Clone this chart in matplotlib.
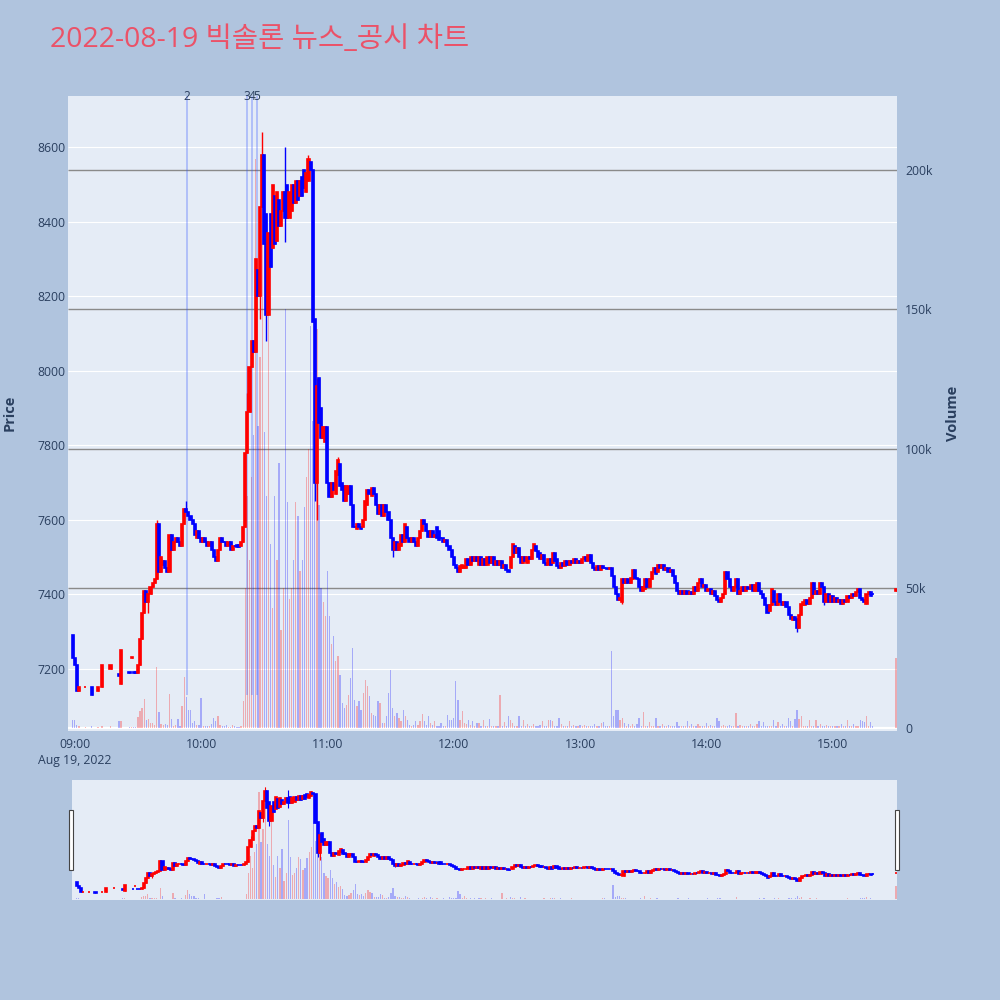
import matplotlib
matplotlib.use("Agg")
import matplotlib.pyplot as plt
from matplotlib.patches import Rectangle

plt.rcParams['font.family'] = ['Open Sans', 'Noto Sans CJK KR', 'DejaVu Sans']

title = "2022-08-19 빅솔론 뉴스_공시 차트"
first_minute = -1          # 08:59 ; index i -> minutes after 09:00 = i - 1
N = None

opens = [
    7290, 7230, 7210, 7140, N, N, 7150, N, N, 7150,
    N, N, 7140, N, 7150, N, N, N, 7200, N,
    N, N, 7185, 7160, N, N, N, 7192, 7228, 7192,
    7192, 7190, 7210, 7280, 7350, 7410, 7380, 7400, 7420, 7430,
    7440, 7590, 7460, 7480, 7490, 7470, 7460, 7560, 7520, 7540,
    7550, 7540, 7530, 7590, 7630, 7620, 7610, 7600, 7590, 7550,
    7570, 7550, 7540, 7550, 7540, 7530, 7540, 7520, 7500, 7490,
    7520, 7550, 7540, 7540, 7530, 7540, 7520, 7530, 7532, 7532,
    7530, 7540, 7580, 7780, 7890, 8010, 8080, 8050, 8270, 8200,
    8440, 8580, 8420, 8150, 8420, 8330, 8470, 8350, 8460, 8390,
    8430, 8480, 8500, 8410, 8430, 8500, 8450, 8510, 8470, 8520,
    8540, 8480, 8510, 8560, 8540, 8140, 7700, 7980, 7900, 7820,
    7810, 7850, 7700, 7660, 7700, 7670, 7720, 7750, 7700, 7690,
    7650, 7670, 7690, 7640, 7580, 7575, 7590, 7580, 7580, 7600,
    7640, 7680, 7665, 7685, 7670, 7640, 7615, 7640, 7610, 7640,
    7620, 7600, 7550, 7520, 7540, 7520, 7530, 7560, 7540, 7580,
    7550, 7540, 7550, 7540, 7530, 7550, 7570, 7600, 7590, 7570,
    7555, 7570, 7555, 7580, 7570, 7550, 7550, 7540, 7545, 7530,
    7520, 7500, 7480, 7470, 7460, 7470, 7470, 7470, 7495, 7480,
    7500, 7490, 7500, 7480, 7500, 7480, 7495, 7480, 7500, 7485,
    7500, 7480, 7490, 7480, 7490, 7470, 7480, 7465, 7470, 7500,
    7530, 7510, 7525, 7500, 7485, 7500, 7485, 7500, 7495, 7520,
    7530, 7515, 7510, 7495, 7505, 7485, 7480, 7495, 7485, 7510,
    7495, 7475, 7470, 7485, 7475, 7490, 7480, 7490, 7485, 7495,
    7485, 7490, 7485, 7495, 7500, 7490, 7505, 7485, 7470, 7465,
    7475, 7465, 7475, 7470, 7472, 7468, 7470, 7450, 7420, 7400,
    7385, 7380, 7440, 7430, 7440, 7430, 7440, 7465, 7445, 7440,
    7420, 7410, 7415, 7440, 7420, 7440, 7460, 7470, 7460, 7480,
    7470, 7480, 7465, 7470, 7460, 7465, 7450, 7430, 7410, 7400,
    7410, 7400, 7410, 7400, 7405, 7400, 7420, 7410, 7430, 7440,
    7420, 7425, 7410, 7415, 7400, 7410, 7395, 7385, 7380, 7390,
    7400, 7460, 7440, 7420, 7410, 7420, 7440, 7400, 7410, 7420,
    7410, 7420, 7415, 7425, 7410, 7410, 7430, 7410, 7400, 7390,
    7370, 7355, 7370, 7410, 7380, 7370, 7400, 7380, 7370, 7380,
    7365, 7345, 7330, 7340, 7335, 7310, 7345, 7370, 7370, 7385,
    7375, 7390, 7430, 7400, 7410, 7400, 7430, 7420, 7380, 7400,
    7380, 7395, 7380, 7390, 7380, 7385, 7375, 7385, 7380, 7395,
    7390, 7400, 7395, 7405, 7415, 7390, 7385, 7375, 7400, 7405,
    7400, N, N, N, N, N, N, N, N, N,
    N, 7410,
]

closes = [
    7230, 7210, 7140, 7150, N, N, 7152, N, N, 7130,
    N, N, 7150, N, 7210, N, N, N, 7210, N,
    N, N, 7180, 7250, N, N, N, 7188, 7232, 7188,
    7188, 7210, 7280, 7350, 7410, 7380, 7400, 7420, 7430, 7440,
    7590, 7460, 7500, 7490, 7470, 7460, 7560, 7520, 7540, 7550,
    7540, 7530, 7590, 7630, 7620, 7610, 7600, 7590, 7560, 7570,
    7550, 7540, 7550, 7540, 7530, 7540, 7520, 7500, 7490, 7520,
    7550, 7540, 7540, 7530, 7540, 7520, 7530, 7530, 7528, 7528,
    7540, 7580, 7780, 7890, 8010, 8080, 8050, 8300, 8200, 8440,
    8580, 8340, 8150, 8370, 8280, 8500, 8340, 8480, 8390, 8430,
    8480, 8410, 8410, 8480, 8500, 8450, 8510, 8460, 8510, 8470,
    8490, 8530, 8570, 8540, 8130, 7700, 7960, 7860, 7820, 7850,
    7850, 7700, 7660, 7700, 7680, 7730, 7760, 7690, 7680, 7650,
    7690, 7690, 7640, 7580, 7580, 7590, 7580, 7575, 7600, 7650,
    7680, 7670, 7685, 7670, 7640, 7615, 7640, 7610, 7640, 7620,
    7600, 7550, 7520, 7540, 7520, 7535, 7560, 7540, 7590, 7550,
    7540, 7550, 7540, 7530, 7550, 7570, 7600, 7590, 7570, 7555,
    7570, 7555, 7560, 7550, 7545, 7550, 7540, 7545, 7530, 7520,
    7500, 7480, 7470, 7460, 7475, 7480, 7475, 7495, 7480, 7500,
    7490, 7500, 7490, 7500, 7480, 7495, 7480, 7500, 7485, 7500,
    7480, 7490, 7480, 7490, 7470, 7480, 7465, 7460, 7500, 7535,
    7510, 7525, 7500, 7485, 7500, 7490, 7500, 7495, 7520, 7535,
    7515, 7500, 7495, 7505, 7485, 7480, 7495, 7480, 7510, 7490,
    7475, 7470, 7485, 7475, 7490, 7480, 7490, 7485, 7495, 7485,
    7490, 7485, 7495, 7500, 7490, 7505, 7485, 7470, 7465, 7475,
    7465, 7475, 7470, 7470, 7468, 7470, 7450, 7420, 7400, 7385,
    7390, 7440, 7430, 7440, 7430, 7445, 7465, 7445, 7440, 7420,
    7410, 7420, 7440, 7420, 7440, 7460, 7470, 7455, 7480, 7470,
    7480, 7465, 7470, 7460, 7465, 7450, 7430, 7410, 7400, 7410,
    7400, 7410, 7400, 7405, 7400, 7420, 7410, 7430, 7440, 7420,
    7425, 7410, 7415, 7400, 7410, 7395, 7385, 7380, 7390, 7400,
    7460, 7440, 7420, 7410, 7420, 7440, 7400, 7410, 7420, 7410,
    7420, 7415, 7425, 7410, 7425, 7430, 7410, 7400, 7390, 7370,
    7350, 7370, 7415, 7380, 7370, 7400, 7380, 7370, 7380, 7365,
    7345, 7335, 7340, 7330, 7310, 7345, 7375, 7380, 7385, 7375,
    7390, 7430, 7400, 7410, 7400, 7430, 7420, 7380, 7400, 7380,
    7395, 7380, 7390, 7380, 7385, 7375, 7385, 7380, 7395, 7390,
    7400, 7395, 7405, 7415, 7390, 7385, 7380, 7400, 7405, 7395,
    7400, N, N, N, N, N, N, N, N, N,
    N, 7415,
]

# volume in thousands of shares
volumes_k = [
    2.6, 2.6, 0.8, 0.5, 0, 0, 0.3, 0, 0, 0.7,
    0, 0, 0.4, 0, 0.5, 0, 0, 0, 0.7, 0,
    0, 0, 2.3, 2.3, 0, 0, 0, 0.3, 0.3, 0.3,
    0.3, 3.8, 5.9, 7.0, 10.3, 2.6, 3.0, 1.7, 1.7, 1.0,
    21.6, 5.5, 1.4, 1.0, 1.4, 0.8, 12.0, 3.1, 0.7, 1.0,
    3.1, 0.7, 7.6, 18.0, 11.0, 6.2, 6.2, 1.7, 2.3, 1.0,
    0.8, 10.6, 0.5, 0.5, 0.5, 0.5, 1.4, 3.5, 2.3, 4.3,
    1.0, 0.5, 0.5, 0.8, 0.3, 0.3, 0.8, 0.5, 0.3, 0.3,
    0.5, 9.4, 50, 83, 60, 90, 105, 204, 108, 133,
    213, 106, 83, 154, 66, 43, 83, 60, 95, 35,
    50, 150, 81, 46, 50, 60, 81, 76, 56, 60,
    79, 90, 100, 144, 110, 120, 143, 80, 50, 45,
    40, 56, 40, 30, 32.7, 24, 25.6, 19, 8.8, 7,
    8.2, 11.8, 17.8, 28.6, 10, 7.6, 9.4, 6.5, 12.4, 17.2,
    14.8, 11.2, 5.3, 4.7, 4, 9.4, 8.8, 1.7, 1.7, 4,
    12.4, 20.8, 7, 4, 5.3, 3.5, 2.3, 6.2, 4, 2.9,
    1, 0.7, 1, 2.3, 1, 2.3, 5, 2.3, 1, 4,
    1.7, 1, 2.3, 0.7, 0.7, 1.7, 0.5, 0.7, 4.7, 2.9,
    2.9, 3.5, 16.6, 10, 2.9, 5.9, 1.7, 1.4, 2.9, 1,
    2.3, 0.7, 1.7, 1.7, 0.5, 2.9, 0.6, 0.5, 3.1, 0.5,
    0.5, 0.5, 0.6, 11.8, 0.5, 1.9, 0.6, 4, 2.9, 1.7,
    0.6, 0.5, 4.3, 0.5, 2.9, 0.5, 1.4, 0.5, 0.5, 1.4,
    0.5, 0.6, 1, 2.3, 0.5, 0.5, 2.6, 2.6, 2.3, 0.5,
    0.6, 3.5, 1.4, 0.5, 0.5, 0.6, 2.3, 0.5, 1, 0.5,
    0.5, 1, 0.5, 1, 0.5, 0.7, 0.5, 0.5, 1.4, 0.6,
    0.5, 1.7, 1.9, 0.5, 0.5, 0.6, 27.4, 4, 6.5, 6.2,
    2.9, 3.5, 1.7, 0.5, 1.4, 0.5, 1.4, 0.5, 1.4, 3.5,
    0.6, 5.5, 0.5, 0.5, 1.9, 0.5, 0.6, 3.5, 0.5, 0.5,
    1.4, 0.5, 0.5, 1, 0.5, 0.6, 0.5, 1.9, 0.5, 0.6,
    0.5, 0.5, 2.3, 0.5, 1.4, 0.5, 0.6, 1.4, 0.7, 0.5,
    0.5, 1.7, 0.5, 1, 0.5, 0.5, 3.5, 2.3, 0.5, 1,
    0.5, 0.6, 1, 0.5, 0.5, 5.3, 0.5, 1, 0.5, 0.7,
    0.5, 0.5, 1.4, 0.5, 0.5, 1.4, 2.3, 0.5, 1.9, 0.5,
    0.5, 0.5, 0.6, 2.6, 0.5, 1.9, 0.5, 1.4, 0.5, 0.5,
    3.5, 2.3, 0.5, 3.1, 6.2, 3.1, 4, 0.5, 0.5, 0.5,
    2.6, 0.5, 0.6, 2.6, 0.5, 1.4, 0.5, 0.5, 1, 0.5,
    0.5, 0.7, 0.5, 0.5, 0.5, 1.4, 0.5, 0.5, 2.9, 0.5,
    0.5, 1.4, 0.5, 0.5, 2.6, 2.3, 1.9, 4, 0.5, 1.9,
    0.5, 0, 0, 0, 0, 0, 0, 0, 0, 0,
    0, 25,
]

# visible wicks beyond the bodies (minute after 09:00 -> price)
wick_high = {39: 7600, 53: 7650, 82: 7940, 89: 8640, 100: 8600, 111: 8580,
             115: 7980, 125: 7770}
wick_low = {35: 7350, 88: 8140, 91: 8080, 100: 8345, 114: 7650, 115: 7600,
            151: 7500, 260: 7375, 343: 7300, 356: 7370}

news_labels = ["2", "3", "4", "5"]
news_times = ["09:53:20", "10:21:40", "10:24:20", "10:26:25"]

hour_ticks = ["09:00", "10:00", "11:00", "12:00", "13:00", "14:00", "15:00"]
price_ticks = [7200, 7400, 7600, 7800, 8000, 8200, 8400, 8600]
volume_ticks = [0, 50000, 100000, 150000, 200000]
volume_tick_labels = ["0", "50k", "100k", "150k", "200k"]


def to_min(t):
    parts = [int(p) for p in t.split(":")]
    while len(parts) < 3:
        parts.append(0)
    return (parts[0] - 9) * 60 + parts[1] + parts[2] / 60.0


# ---------------------------------------------------------------- prepare
xs, o_l, c_l, h_l, l_l, col, vol_x, vol_v, vol_c = [], [], [], [], [], [], [], [], []
RED, BLUE = "#FF0000", "#0000FF"
for i, (o, c, v) in enumerate(zip(opens, closes, volumes_k)):
    m = i + first_minute
    if o is None:
        continue
    hi = max(o, c, wick_high.get(m, o))
    lo = min(o, c, wick_low.get(m, o))
    cc = RED if c > o else BLUE
    xs.append(m); o_l.append(o); c_l.append(c); h_l.append(hi); l_l.append(lo); col.append(cc)
    vol_x.append(m); vol_v.append(v * 1000); vol_c.append(cc)

XL = (-3.2, 390.5)
PL = (7033, 8738)
VL = (-1200, 226500)
TXT = "#2a3f5f"
BG = "#B0C4DE"
PBG = "#E5ECF6"

fig = plt.figure(figsize=(10, 10), dpi=100, facecolor=BG)

# ----------------------------------------------------------------- main
axv = fig.add_axes([0.068, 0.269, 0.829, 0.635])
axv.set_facecolor(PBG)
axp = axv.twinx()
axp.patch.set_visible(False)
for a in (axv, axp):
    a.set_xlim(*XL)
    for s in a.spines.values():
        s.set_visible(False)
axv.set_ylim(*VL)
axp.set_ylim(*PL)

# grid lines
axv.hlines(price_ticks, XL[0], XL[1], colors="white", linewidth=0.8,
           transform=axp.transData, zorder=0.3)
axv.hlines(volume_ticks[1:], XL[0], XL[1], colors="#8a8a8a", linewidth=1.0, zorder=0.4)
axv.axhline(0, color="white", linewidth=1.6, zorder=0.5)

# volume bars
axv.bar(vol_x, vol_v, width=0.6, color=vol_c, alpha=0.28, linewidth=0, zorder=1)

# news lines
for lab, t in zip(news_labels, news_times):
    xm = to_min(t)
    axp.vlines(xm, 7130, PL[1], colors="#3355ff", alpha=0.35, linewidth=1.2, zorder=1.5)
    axp.text(xm, PL[1], lab, ha="center", va="center", fontsize=8.6, color=TXT,
             clip_on=False, zorder=5)

# candles
axp.vlines(xs, l_l, h_l, colors=col, linewidth=1.0, zorder=2)
heights = [c - o for o, c in zip(o_l, c_l)]
axp.bar(xs, heights, bottom=o_l, width=1.0, color=col, edgecolor=col,
        linewidth=1.2, zorder=3)

# ticks
axp.yaxis.tick_left()
axp.yaxis.set_label_position("left")
axv.yaxis.tick_right()
axv.yaxis.set_label_position("right")
axp.set_yticks(price_ticks)
axp.set_yticklabels([str(p) for p in price_ticks])
axv.set_yticks(volume_ticks)
axv.set_yticklabels(volume_tick_labels)
tick_pos = [to_min(t) for t in hour_ticks]
axv.set_xticks(tick_pos)
labels = list(hour_ticks)
labels[0] = "09:00\nAug 19, 2022"
axv.set_xticklabels(labels, linespacing=1.3, va="top")
axp.tick_params(axis="y", length=0, pad=2, labelsize=8.8, labelcolor=TXT)
axv.tick_params(axis="y", length=0, pad=6, labelsize=8.8, labelcolor=TXT)
axv.tick_params(axis="x", length=0, pad=5, labelsize=8.8, labelcolor=TXT)
axp.tick_params(axis="x", length=0, labelbottom=False)

fig.text(0.010, 0.587, "Price", rotation=90, ha="center", va="center",
         fontsize=10.5, fontweight="bold", color=TXT)
fig.text(0.953, 0.587, "Volume", rotation=90, ha="center", va="center",
         fontsize=10.5, fontweight="bold", color=TXT)
fig.text(0.050, 0.960, title, ha="left", va="center", fontsize=20.5, color="#EB5268")

# ------------------------------------------------------------ range slider
asv = fig.add_axes([0.072, 0.100, 0.825, 0.120])
asv.set_facecolor(PBG)
asp = asv.twinx()
asp.patch.set_visible(False)
for a in (asv, asp):
    a.set_xlim(*XL)
    a.set_xticks([])
    a.set_yticks([])
    for s in a.spines.values():
        s.set_visible(False)
asv.set_ylim(*VL)
asp.set_ylim(*PL)
asv.bar(vol_x, vol_v, width=0.6, color=vol_c, alpha=0.28, linewidth=0, zorder=1)
asp.vlines(xs, l_l, h_l, colors=col, linewidth=0.8, zorder=2)
asp.bar(xs, heights, bottom=o_l, width=1.0, color=col, edgecolor=col,
        linewidth=1.2, zorder=3)

for hx in (0.069, 0.895):
    fig.patches.append(Rectangle((hx, 0.130), 0.004, 0.060, transform=fig.transFigure,
                                 facecolor="white", edgecolor="#444444", linewidth=0.8))

fig.savefig("out.png", dpi=100, facecolor=BG)
